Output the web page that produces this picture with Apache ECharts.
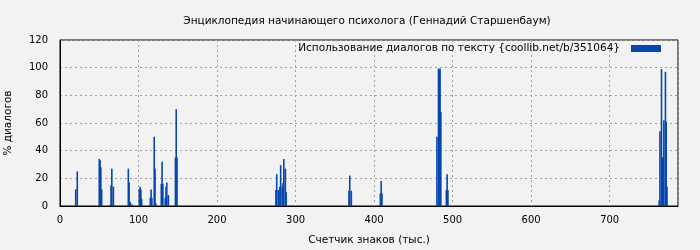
<!DOCTYPE html>
<html>
<head>
<meta charset="utf-8">
<script src="https://cdn.jsdelivr.net/npm/echarts@6/dist/echarts.min.js"></script>
<style>
html,body{margin:0;padding:0;background:#f2f2f2;}
#chart{width:700px;height:250px;}
</style>
</head>
<body>
<div id="chart"></div>
<script>
const titleText = 'Энциклопедия начинающего психолога (Геннадий Старшенбаум)';
const seriesName = 'Использование диалогов по тексту {coollib.net/b/351064}';
const xAxisName = 'Счетчик знаков (тыс.)';
const yAxisName = '% диалогов';
const xTicks = [0, 100, 200, 300, 400, 500, 600, 700];
const yTicks = [0, 20, 40, 60, 80, 100, 120];

const positions = [
  20, 22,
  50, 51, 52, 53,
  64, 65, 66, 68,
  87, 88, 89, 90, 92,
  101, 102, 103, 104,
  115, 116, 117, 120, 121, 122,
  129, 130, 131, 134, 135, 136, 138,
  147, 148, 149,
  275, 276, 278, 280, 281, 283, 284, 285, 287, 288,
  368, 369, 371,
  408, 409, 410,
  480, 482, 483, 484, 485,
  492, 493, 494,
  763, 764, 766, 767, 768, 769, 771, 772, 773
];
const values = [
  12, 25,
  34, 33, 28, 12,
  1, 15, 27, 14,
  27, 17, 3, 2, 1,
  12, 14, 12, 5,
  6, 12, 6, 50, 27, 2,
  16, 32, 16, 6, 14, 17, 8,
  35, 70, 35,
  11.5, 23, 11.5, 14, 29.5, 14, 16.6, 34, 27, 10,
  11, 22, 11,
  9, 18, 9,
  50, 99.4, 98, 99.4, 68,
  11.5, 23, 11.5,
  4, 54, 99, 35, 35, 62, 97, 61, 14
];

const font = 'DejaVu Sans, sans-serif';
const chart = echarts.init(document.getElementById('chart'), null, {renderer: 'canvas'});
chart.setOption({
  backgroundColor: '#f2f2f2',
  animation: false,
  title: {
    text: titleText, left: 362, textAlign: 'center', top: 11,
    textStyle: {fontFamily: font, fontSize: 10.5, fontWeight: 'normal', color: '#000'}
  },
  legend: {
    right: 34, top: 38, itemWidth: 30, itemHeight: 7, align: 'right',
    icon: 'rect',
    textStyle: {fontFamily: font, fontSize: 10.5, color: '#000', padding: [0, 6, 0, 0]},
    data: [seriesName]
  },
  grid: {left: 60, right: 22, top: 40, bottom: 44, show: true, borderColor: '#000', borderWidth: 1,
    backgroundColor: 'transparent', containLabel: false, outerBoundsMode: 'none'},
  xAxis: {
    type: 'value', min: 0, max: 787, interval: 100,
    name: xAxisName, nameLocation: 'middle', nameGap: 29,
    nameTextStyle: {fontFamily: font, fontSize: 10.5, color: '#000'},
    axisLine: {show: true, lineStyle: {color: '#000'}},
    axisTick: {show: false},
    axisLabel: {fontFamily: font, fontSize: 10, color: '#000', margin: 9,
      formatter: v => xTicks.includes(v) ? String(v) : ''},
    splitLine: {show: true, lineStyle: {color: '#a0a0a0', type: [2, 3]}}
  },
  yAxis: {
    type: 'value', min: 0, max: 120, interval: 20,
    name: yAxisName, nameLocation: 'middle', nameGap: 46, nameRotate: 90,
    nameTextStyle: {fontFamily: font, fontSize: 10.5, color: '#000'},
    axisLine: {show: true, lineStyle: {color: '#000'}},
    axisTick: {show: false},
    axisLabel: {fontFamily: font, fontSize: 10, color: '#000', margin: 12,
      formatter: v => yTicks.includes(v) ? String(v) : ''},
    splitLine: {show: true, lineStyle: {color: '#a0a0a0', type: [2, 3]}}
  },
  series: [{
    name: seriesName, type: 'bar', barWidth: 1.6,
    itemStyle: {color: '#0546af'},
    data: positions.map((p, i) => [p, values[i]])
  }]
});
</script>
</body>
</html>
